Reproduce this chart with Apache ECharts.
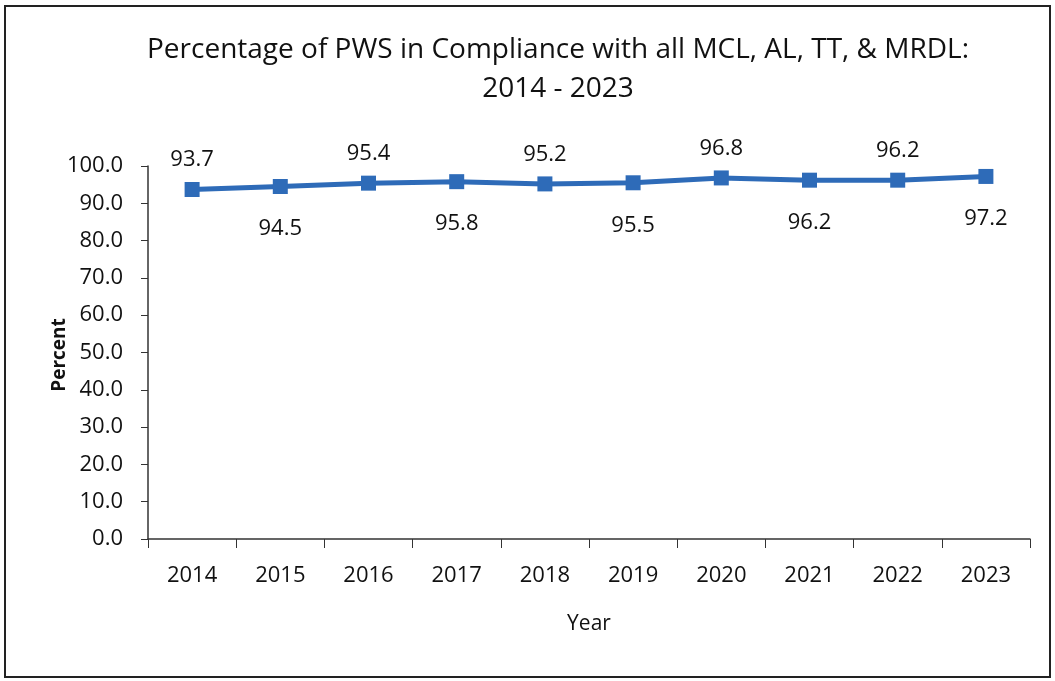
<!DOCTYPE html>
<html>
<head>
<meta charset="utf-8">
<script src="https://cdn.jsdelivr.net/npm/echarts@6/dist/echarts.min.js"></script>
<style>
  html,body{margin:0;padding:0;background:#fff;}
  #frame{position:absolute;left:4px;top:5px;width:1047px;height:673px;border:2px solid #222;box-sizing:border-box;}
  #main{position:absolute;left:0;top:0;width:1055px;height:681px;}
</style>
</head>
<body>
<div id="frame"></div>
<div id="main"></div>
<script>
// 数据
var years = ['2014','2015','2016','2017','2018','2019','2020','2021','2022','2023'];
var percents = [93.7, 94.5, 95.4, 95.8, 95.2, 95.5, 96.8, 96.2, 96.2, 97.2];
var labelSide = ['top','bottom','top','bottom','top','bottom','top','bottom','top','bottom'];

var font = 'Open Sans, Noto Sans, sans-serif';

//点数据，标签上下交替
var pointData = [];
for (var i = 0; i < percents.length; i++) {
    pointData.push({
        value: percents[i],
        label: {
            position: labelSide[i],
            distance: labelSide[i] === 'top' ? 11 : 24
        }
    });
}

var option = {
    animation: false,
    title: {
        text: 'Percentage of PWS in Compliance with all MCL, AL, TT, & MRDL:\n2014 - 2023',
        left: 553,
        textAlign: 'center',
        top: 26,
        textStyle: {
            fontFamily: font,
            fontWeight: 'normal',
            fontSize: 28,
            lineHeight: 39,
            color: '#111'
        }
    },
    //Y轴名称，放在刻度标签左侧
    graphic: [{
        type: 'text',
        x: 60,
        y: 355,
        rotation: Math.PI / 2,
        style: {
            text: 'Percent',
            fontFamily: font,
            fontSize: 19,
            fontWeight: 'bold',
            fill: '#111',
            align: 'center',
            verticalAlign: 'middle'
        }
    }],
    grid: {
        left: 148,
        right: 25,
        top: 166,
        bottom: 142
    },
    xAxis: {
        type: 'category',
        data: years,
        name: 'Year',
        nameLocation: 'middle',
        nameGap: 75,
        nameMoveOverlap: false,
        nameTextStyle: {fontFamily: font, fontSize: 21, color: '#111'},
        axisLine: {lineStyle: {color: '#333', width: 1.5}},
        axisTick: {show: true, length: 9, alignWithLabel: false, lineStyle: {color: '#333'}},
        axisLabel: {fontFamily: font, fontSize: 22, color: '#111', margin: 26}
    },
    yAxis: {
        type: 'value',
        min: 0,
        max: 100,
        interval: 10,
        axisLine: {show: true, lineStyle: {color: '#333', width: 1.5}},
        axisTick: {show: true, length: 7, lineStyle: {color: '#333'}},
        splitLine: {show: false},
        axisLabel: {
            fontFamily: font, fontSize: 22, color: '#111', margin: 25,
            formatter: function (v) { return v.toFixed(1); }
        }
    },
    series: [{
        type: 'line',
        data: pointData,
        symbol: 'rect',
        symbolSize: 15,
        lineStyle: {color: '#2E6BB8', width: 5},
        itemStyle: {color: '#2E6BB8'},
        label: {
            show: true,
            fontFamily: font,
            fontSize: 22,
            color: '#111',
            formatter: function (p) { return p.value.toFixed(1); }
        }
    }]
};

var myChart = echarts.init(document.getElementById('main'));
myChart.setOption(option);
</script>
</body>
</html>
